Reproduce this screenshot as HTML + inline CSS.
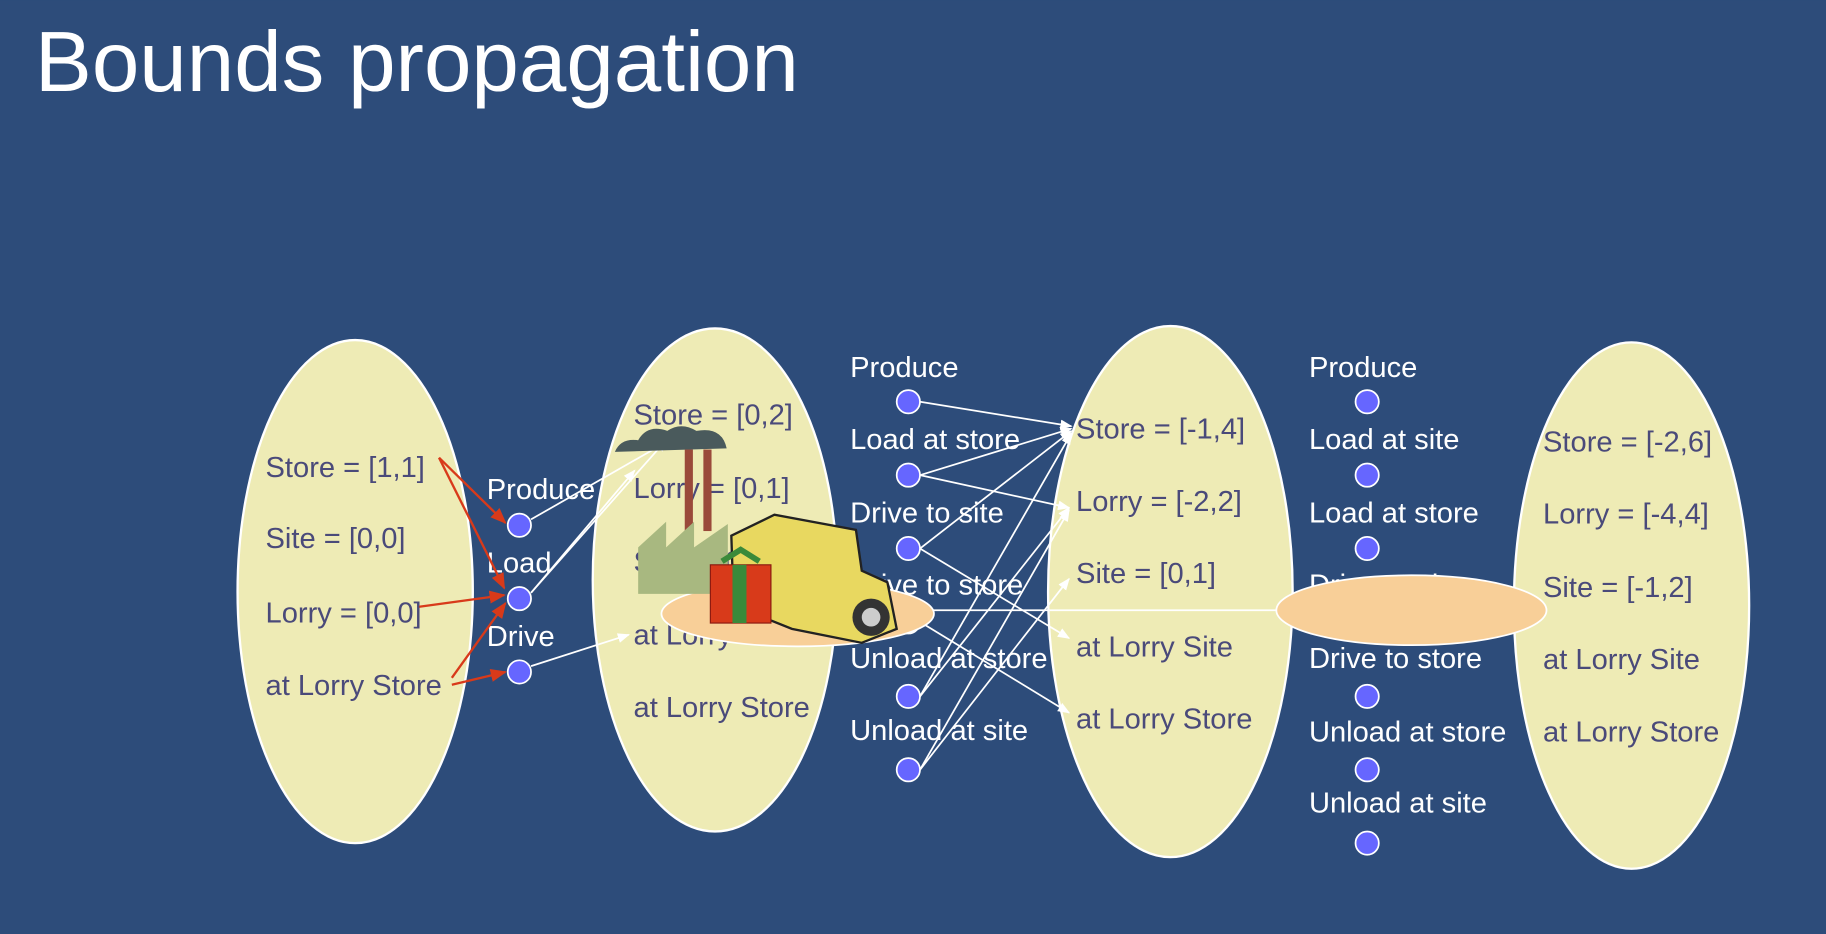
<!DOCTYPE html>
<html><head><meta charset="utf-8"><style>
html,body{margin:0;padding:0;background:#2D4C7A;}
svg{display:block}
</style></head><body>
<svg width="1826" height="934" viewBox="0 0 1568 802" xmlns="http://www.w3.org/2000/svg" font-family="Liberation Sans, sans-serif">
<defs>
<marker id="aw" viewBox="0 0 10 10" refX="9" refY="5" markerWidth="7" markerHeight="7" orient="auto"><path d="M0,1 L10,5 L0,9 z" fill="#fff"/></marker>
<marker id="ar" viewBox="0 0 10 10" refX="9" refY="5" markerWidth="7" markerHeight="7" orient="auto"><path d="M0,1 L10,5 L0,9 z" fill="#D83A1A"/></marker>
</defs>
<rect width="1568" height="802" fill="#2D4C7A"/>
<text x="30" y="78" font-size="73" fill="#fff" textLength="656" lengthAdjust="spacingAndGlyphs">Bounds propagation</text>

<g fill="#EEEBB5" stroke="#fff" stroke-width="2">
<ellipse cx="305" cy="508" rx="101" ry="216"/>
<ellipse cx="614" cy="498" rx="105" ry="216"/>
<ellipse cx="1005" cy="508" rx="105" ry="228"/>
<ellipse cx="1401" cy="520" rx="101" ry="226"/>
</g>

<g fill="#4A4A7A" font-size="25" dominant-baseline="middle">
<text x="228" y="403">Store = [1,1]</text>
<text x="228" y="464">Site = [0,0]</text>
<text x="228" y="528">Lorry = [0,0]</text>
<text x="228" y="590">at Lorry Store</text>
<text x="544" y="358">Store = [0,2]</text>
<text x="544" y="421">Lorry = [0,1]</text>
<text x="544" y="484">Site = [0,1]</text>
<text x="544" y="547">at Lorry Site</text>
<text x="544" y="609">at Lorry Store</text>
<text x="924" y="370">Store = [-1,4]</text>
<text x="924" y="432">Lorry = [-2,2]</text>
<text x="924" y="494">Site = [0,1]</text>
<text x="924" y="557">at Lorry Site</text>
<text x="924" y="619">at Lorry Store</text>
<text x="1325" y="381">Store = [-2,6]</text>
<text x="1325" y="443">Lorry = [-4,4]</text>
<text x="1325" y="506">Site = [-1,2]</text>
<text x="1325" y="568">at Lorry Site</text>
<text x="1325" y="630">at Lorry Store</text>
</g>

<g fill="#fff" font-size="25" dominant-baseline="middle">
<text x="418" y="422">Produce</text>
<text x="418" y="485">Load</text>
<text x="418" y="548">Drive</text>
<text x="730" y="317">Produce</text>
<text x="730" y="379">Load at store</text>
<text x="730" y="442">Drive to site</text>
<text x="730" y="504">Drive to store</text>
<text x="730" y="567">Unload at store</text>
<text x="730" y="629">Unload at site</text>
<text x="1124" y="317">Produce</text>
<text x="1124" y="379">Load at site</text>
<text x="1124" y="442">Load at store</text>
<text x="1124" y="504">Drive to site</text>
<text x="1124" y="567">Drive to store</text>
<text x="1124" y="630">Unload at store</text>
<text x="1124" y="691">Unload at site</text>
</g>

<g stroke="#D83A1A" stroke-width="2" fill="none" marker-end="url(#ar)">
<line x1="377" y1="393" x2="434" y2="449"/>
<line x1="377" y1="393" x2="433" y2="505"/>
<line x1="360" y1="521" x2="433" y2="511"/>
<line x1="388" y1="582" x2="434" y2="518"/>
<line x1="388" y1="588" x2="434" y2="577"/>
</g>

<g stroke="#fff" stroke-width="1.5" fill="none" marker-end="url(#aw)">
<line x1="456" y1="446" x2="575" y2="378"/>
<line x1="456" y1="509" x2="572" y2="378"/>
<line x1="456" y1="509" x2="545" y2="404"/>
<line x1="456" y1="572" x2="540" y2="545"/>
<line x1="790" y1="345" x2="920" y2="366"/>
<line x1="790" y1="408" x2="920" y2="368"/>
<line x1="790" y1="408" x2="918" y2="436"/>
<line x1="790" y1="471" x2="920" y2="370"/>
<line x1="790" y1="471" x2="918" y2="548"/>
<line x1="790" y1="534" x2="918" y2="612"/>
<line x1="790" y1="598" x2="920" y2="372"/>
<line x1="790" y1="598" x2="918" y2="436"/>
<line x1="790" y1="661" x2="918" y2="438"/>
<line x1="790" y1="661" x2="918" y2="497"/>
</g>

<g fill="#6666FF" stroke="#fff" stroke-width="1.5">
<circle cx="446" cy="451" r="10"/><circle cx="446" cy="514" r="10"/><circle cx="446" cy="577" r="10"/>
<circle cx="780" cy="345" r="10"/><circle cx="780" cy="408" r="10"/><circle cx="780" cy="471" r="10"/><circle cx="780" cy="534" r="10"/><circle cx="780" cy="598" r="10"/><circle cx="780" cy="661" r="10"/>
<circle cx="1174" cy="345" r="10"/><circle cx="1174" cy="408" r="10"/><circle cx="1174" cy="471" r="10"/><circle cx="1174" cy="598" r="10"/><circle cx="1174" cy="661" r="10"/><circle cx="1174" cy="724" r="10"/>
</g>

<line x1="800" y1="524" x2="1100" y2="524" stroke="#fff" stroke-width="1.5"/>
<ellipse cx="685" cy="527" rx="117" ry="28" fill="#F8CF98" stroke="#fff" stroke-width="1.5"/>
<ellipse cx="1212" cy="524" rx="116" ry="30" fill="#F8CF98" stroke="#fff" stroke-width="1.5"/>

<path d="M528,388 q5,-12 20,-10 q8,-14 25,-8 q12,-8 25,0 q22,-4 26,15 z" fill="#4A5A5C"/>
<rect x="588" y="386" width="7" height="70" fill="#9A4A3A"/>
<rect x="604" y="386" width="7" height="70" fill="#9A4A3A"/>
<path d="M548,510 L548,470 L572,448 L572,470 L596,448 L596,470 L625,450 L625,510 z" fill="#A8B880"/>
<path d="M628,460 L665,442 L735,455 L740,490 L762,500 L770,540 L740,552 L680,540 L630,520 z" fill="#E8D860" stroke="#222" stroke-width="2"/>
<circle cx="748" cy="530" r="16" fill="#333"/><circle cx="748" cy="530" r="8" fill="#ccc"/>
<rect x="610" y="485" width="52" height="50" fill="#D83A1A" stroke="#8a1a10"/>
<rect x="629" y="485" width="12" height="50" fill="#3A8A3A"/>
<path d="M620,482 L636,472 L652,482" stroke="#3A8A3A" stroke-width="5" fill="none"/>
</svg>
</body></html>
